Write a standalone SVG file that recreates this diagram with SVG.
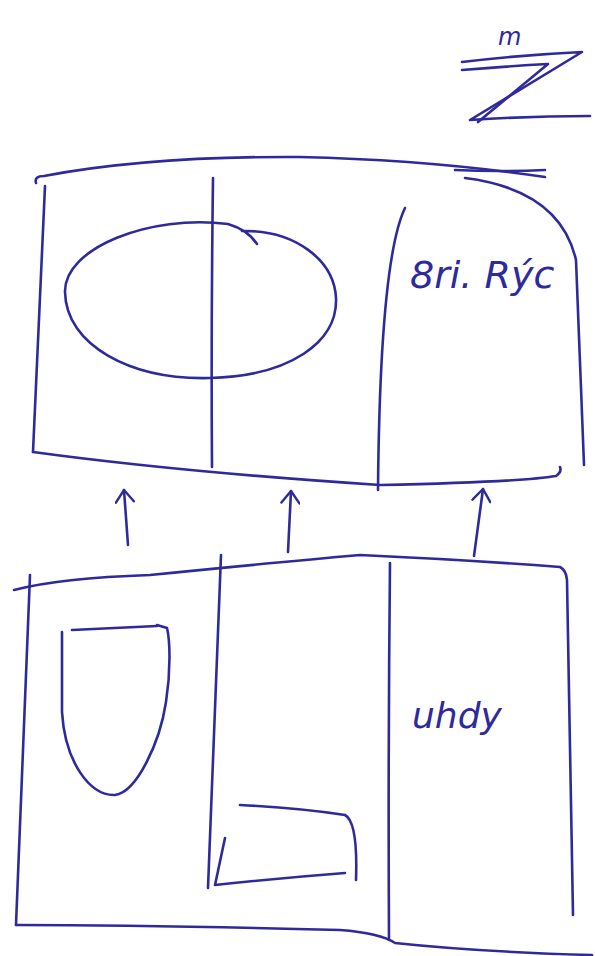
<svg xmlns="http://www.w3.org/2000/svg" width="595" height="956" viewBox="0 0 595 956">
<style>
.s{fill:none;stroke:#2f2a9c;stroke-width:2.6;stroke-linecap:round;stroke-linejoin:round}
.t{fill:#2f2a9c;font-family:"DejaVu Sans",sans-serif;font-style:italic}
</style>
<defs>
<marker id="ah" viewBox="0 0 20 20" refX="18" refY="10" markerWidth="20" markerHeight="20" markerUnits="userSpaceOnUse" orient="auto">
<path d="M6 1 L18 10 L6 19" fill="none" stroke="#2f2a9c" stroke-width="2.4" stroke-linecap="round" stroke-linejoin="round"/>
</marker>
</defs>
<rect width="595" height="956" fill="#fff"/>
<g id="north">
<text class="t" x="498" y="45" font-size="24">m</text>
<path class="s" d="M462 62 Q520 55 582 52 L470 120 Q530 116 590 116"/>
<path class="s" d="M462 70 Q510 66 548 64 L478 122"/>
</g>
<g id="top-box">
<path class="s" d="M36 183 Q34 176 44 176 Q150 156 300 157 Q430 160 545 177"/>
<path class="s" d="M455 170 Q500 172 545 170"/>
<path class="s" d="M45 186 L33 452"/>
<path class="s" d="M465 178 Q560 190 576 260 L584 465"/>
<path class="s" d="M33 452 Q180 472 380 485 Q520 482 556 476 Q562 472 560 467"/>
<path class="s" d="M213 178 Q211 330 212 467"/>
<path class="s" d="M405 208 Q380 260 378 490"/>
<path class="s" d="M257 244 Q248 230 228 224 C150 214 64 248 65 292 C66 345 130 380 210 378 C290 376 338 342 336 298 C334 260 295 230 242 231"/>
<text class="t" x="410" y="288" font-size="38">8ri. Rýc</text>
</g>
<g id="bottom-box">
<path class="s" d="M14 590 Q60 578 150 575 Q280 562 360 555 Q470 560 560 567 Q566 570 567 580 L573 915"/>
<path class="s" d="M30 575 L16 925"/>
<path class="s" d="M16 925 Q150 925 340 930 Q380 933 395 943 Q480 952 592 955"/>
<path class="s" d="M221 555 L208 888"/>
<path class="s" d="M390 563 Q388 750 389 940"/>
<path class="s" d="M62 632 L62 712 C65 762 90 796 115 795 C137 792 160 742 166 702 C171 670 170 640 167 628 L157 625"/>
<path class="s" d="M72 630 L157 626"/>
<path class="s" d="M240 805 Q300 808 345 815 Q358 822 356 880"/>
<path class="s" d="M225 838 L215 885 Q280 878 345 873"/>
<text class="t" x="412" y="728" font-size="36">uhdy</text>
</g>
<g id="connectors">
<path class="s" d="M128 545 L124 490" marker-end="url(#ah)"/>
<path class="s" d="M288 552 L291 491" marker-end="url(#ah)"/>
<path class="s" d="M474 556 L483 489" marker-end="url(#ah)"/>
</g>
</svg>
